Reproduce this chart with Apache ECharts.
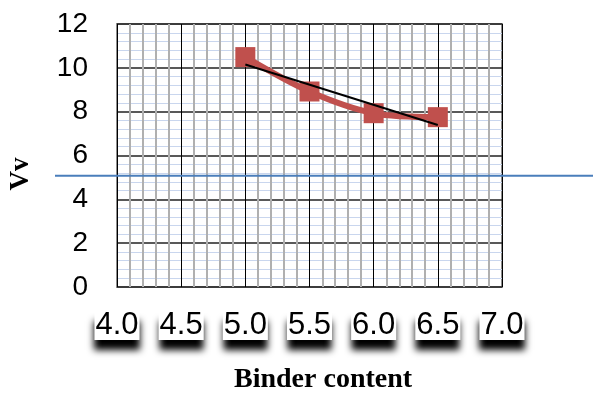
<!DOCTYPE html>
<html>
<head>
<meta charset="utf-8">
<script src="https://cdn.jsdelivr.net/npm/echarts@6/dist/echarts.min.js"></script>
<style>html,body{margin:0;padding:0;background:#fff}#c{width:593px;height:394px}</style>
</head>
<body>
<div id="c"></div>
<script>
var binderContent = [5.0, 5.5, 6.0, 6.5];
var vvValues = [10.49, 8.92, 7.93, 7.75];
var trendX = [5.0, 6.5];
var trendY = [10.15, 7.39];
var refLineValue = 5.08;
var xTickLabels = ['4.0', '4.5', '5.0', '5.5', '6.0', '6.5', '7.0'];
var yTickLabels = ['0', '2', '4', '6', '8', '10', '12'];
var xTitle = 'Binder content';
var yTitle = 'Vv';

var chart = echarts.init(document.getElementById('c'), null, {renderer: 'canvas'});
var mainData = binderContent.map(function (x, i) { return [x, vvValues[i]]; });
var trendData = trendX.map(function (x, i) { return [x, trendY[i]]; });

chart.setOption({
  animation: false,
  backgroundColor: '#ffffff',
  grid: [
    {left: 117, right: 91, top: 24, bottom: 107, show: true, borderColor: '#8c8c8c', borderWidth: 2, backgroundColor: '#fff'},
    {left: 55, right: 0, top: 24, bottom: 107, show: false}
  ],
  xAxis: [{
    type: 'value', gridIndex: 0, min: 4, max: 7, interval: 0.5,
    axisLine: {show: false}, axisTick: {show: false},
    axisLabel: {
      margin: 24,
      formatter: function (v) { var i = Math.round((v - 4) / 0.5); return xTickLabels[i]; },
      fontFamily: 'Liberation Sans, Arial, sans-serif', fontSize: 31, color: '#000',
      lineHeight: 29, padding: [0, 1, 0, 1],
      backgroundColor: '#ffffff', shadowColor: 'rgba(0,0,0,1)', shadowBlur: 7, shadowOffsetY: 10
    },
    splitLine: {show: true, lineStyle: {color: '#000', width: 1}},
    minorTick: {show: false, splitNumber: 5},
    minorSplitLine: {show: true, lineStyle: {color: '#b0b0b0', width: 2}}
  }, {
    type: 'value', gridIndex: 1, min: 0, max: 1, show: false
  }],
  yAxis: [{
    type: 'value', gridIndex: 0, min: 0, max: 12, interval: 2,
    axisLine: {show: false}, axisTick: {show: false},
    axisLabel: {
      margin: 29,
      formatter: function (v) { return yTickLabels[Math.round(v / 2)]; },
      fontFamily: 'Liberation Sans, Arial, sans-serif', fontSize: 28, color: '#000'
    },
    splitLine: {show: true, lineStyle: {color: '#222', width: 1.5}},
    minorTick: {show: false, splitNumber: 5},
    minorSplitLine: {show: true, lineStyle: {color: '#c9d6ee', width: 1}}
  }, {
    type: 'value', gridIndex: 1, min: 0, max: 12, show: false
  }],
  graphic: [
    {type: 'text', left: 234, top: 366, style: {text: xTitle, font: 'bold 28px "Liberation Serif", "Times New Roman", serif', fill: '#000'}},
    {type: 'text', x: 21, y: 174, rotation: Math.PI / 2,
     style: {text: yTitle, font: 'bold 27px "Liberation Serif", "Times New Roman", serif', fill: '#000', align: 'center', verticalAlign: 'middle'}}
  ],
  series: [
    {
      type: 'line', xAxisIndex: 1, yAxisIndex: 1, data: [[0, refLineValue], [1, refLineValue]],
      symbol: 'none', lineStyle: {color: '#4a7ebb', width: 2}, z: 3, silent: true
    },
    {
      type: 'line', xAxisIndex: 0, yAxisIndex: 0, data: mainData, smooth: 0.3,
      symbol: 'rect', symbolSize: 20,
      itemStyle: {color: '#c0504d'}, lineStyle: {color: '#c0504d', width: 6}, z: 4
    },
    {
      type: 'line', xAxisIndex: 0, yAxisIndex: 0, data: trendData,
      symbol: 'none', lineStyle: {color: '#000', width: 2}, z: 5
    }
  ]
});
</script>
</body>
</html>
